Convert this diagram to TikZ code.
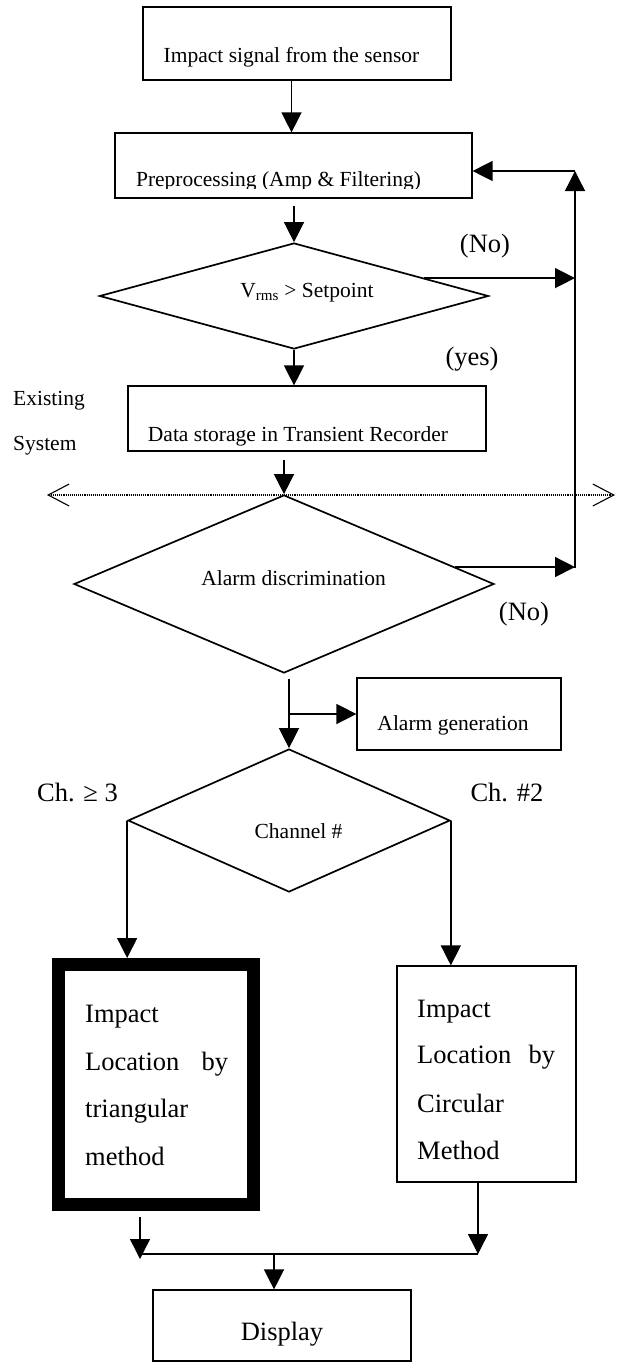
\documentclass[tikz,border=0pt]{standalone}
\usepackage{fontspec}
\setmainfont{Liberation Serif}
\usetikzlibrary{arrows.meta,shapes.geometric,calc}
\begin{document}
\begin{tikzpicture}[x=1pt,y=-1pt,
  box/.style={draw, line width=1.2pt, inner sep=0pt},
  dia/.style={draw, diamond, line width=1.7pt, inner sep=0pt},
  conn/.style={line width=1.4pt},
  arr/.style={conn, -{Triangle[length=20pt,width=20pt]}},
  sm/.style={font=\fontsize{21.5}{24}\selectfont, inner sep=0pt},
  bg/.style={font=\fontsize{26.5}{30}\selectfont, inner sep=0pt},
  barb/.style={line width=1.1pt, densely dotted, {Straight Barb[length=21pt,width=22pt]}-{Straight Barb[length=21pt,width=22pt]}},
]
\useasboundingbox (0,0) rectangle (621,1363);

% shapes
\node[box, minimum width=308pt, minimum height=73pt] (b1) at (297,43.5) {};
\node[box, minimum width=357pt, minimum height=65pt] (b2) at (293.5,165.5) {};
\node[dia, minimum width=389pt, minimum height=106pt] (d1) at (294,296) {};
\node[box, minimum width=358pt, minimum height=65pt] (b3) at (307,418.5) {};
\node[dia, minimum width=420pt, minimum height=178pt] (d2) at (284,584) {};
\node[box, minimum width=204pt, minimum height=72pt] (ag) at (459,714) {};
\node[dia, minimum width=322pt, minimum height=143pt] (d3) at (289,820.5) {};
\node[box, line width=13pt, minimum width=195pt, minimum height=240pt] (tb) at (156,1084.5) {};
\node[box, minimum width=179pt, minimum height=216pt] (cb) at (486.5,1074) {};
\node[box, minimum width=258pt, minimum height=71pt] (dp) at (282,1325.5) {};

% texts
\node[sm, anchor=base] (t1) at (291.5,62) {Impact signal from the sensor};
\begin{scope}
  \clip (116,134) rectangle (471,188);
  \node[sm, anchor=base] (t2) at (278.5,186) {Preprocessing (Amp \& Filtering)};
\end{scope}
\node[sm, anchor=base] (t3) at (307,297) {V\textsubscript{rms} > Setpoint};
\node[bg, anchor=base] (no1) at (485,252) {(No)};
\node[bg, anchor=base] (yes) at (472,365) {(yes)};
\node[sm, anchor=base west] (ex) at (13,405) {Existing};
\node[sm, anchor=base west] (sy) at (13,450) {System};
\node[sm, anchor=base] (t4) at (298,441) {Data storage in Transient Recorder};
\node[sm, anchor=base] (t5) at (293.5,585) {Alarm discrimination};
\node[bg, anchor=base] (no2) at (524,620) {(No)};
\node[sm, anchor=base] (t6) at (453,730) {Alarm generation};
\node[bg, anchor=base] (c1) at (77.5,801) {Ch. ≥ 3};
\node[bg, anchor=base] (c2) at (507,801) {Ch. \#2};
\node[sm, anchor=base] (t7) at (298.5,838) {Channel \#};

\node[bg, anchor=base west] (tl1) at (85,1022) {Impact};
\node[bg, anchor=base west] (tl2) at (85,1070) {\hbox to 143pt{Location\hfill by}};
\node[bg, anchor=base west] (tl3) at (85,1117) {triangular};
\node[bg, anchor=base west] (tl4) at (85,1165) {method};

\node[bg, anchor=base west] (cl1) at (417,1017) {Impact};
\node[bg, anchor=base west] (cl2) at (417,1063) {\hbox to 138pt{Location\hfill by}};
\node[bg, anchor=base west] (cl3) at (417,1112) {Circular};
\node[bg, anchor=base west] (cl4) at (417,1159) {Method};

\node[bg, anchor=base] (t8) at (282,1340) {Display};

% helper coordinates
\coordinate (fbtop) at (575,171);
\coordinate (fbbot) at (575,568);
\coordinate (n1) at ($(d1.north)!0.667!(d1.east)$);
\coordinate (n2) at ($(d2.north)!0.811!(d2.east)$);
\coordinate (mL) at (140,1254);
\coordinate (mR) at (478,1254);
\coordinate (mM) at (274,1254);
\coordinate (dl) at (47,495);
\coordinate (dr) at (615,495);

% dotted boundary
\draw[barb] (dl) -- (dr);

% connectors
\draw[arr] (b1.south -| t1) -- (b2.north -| t1);
\draw[arr, shorten <=7pt] (b2.south -| d1.north) -- (d1.north);
\draw[arr] (d1.south) -- (d1.south |- b3.north);
\draw[arr] (n1) -- (n1 -| fbtop);
\draw[arr] (fbbot) -- (fbtop);
\draw[arr] (fbtop) -- (fbtop -| b2.east);
\draw[arr, shorten <=8pt] (b3.south -| d2.north) -- (d2.north);
\draw[arr] (n2) -- (n2 -| fbbot);
\draw[arr, shorten <=5pt] (d2.south -| d3.north) -- (d3.north);
\draw[arr] (ag.west -| d3.north) -- (ag.west);
\draw[arr] (d3.west) -- (d3.west |- tb.north);
\draw[arr] (d3.east) -- (d3.east |- cb.north);
\draw[arr, shorten <=6pt] (tb.south -| mL) -- ([yshift=-5pt]mL);
\draw[arr] (cb.south -| mR) -- (mR);
\draw[conn] (mL) -- (mR);
\draw[arr] (mM) -- (mM |- dp.north);
\end{tikzpicture}
\end{document}
